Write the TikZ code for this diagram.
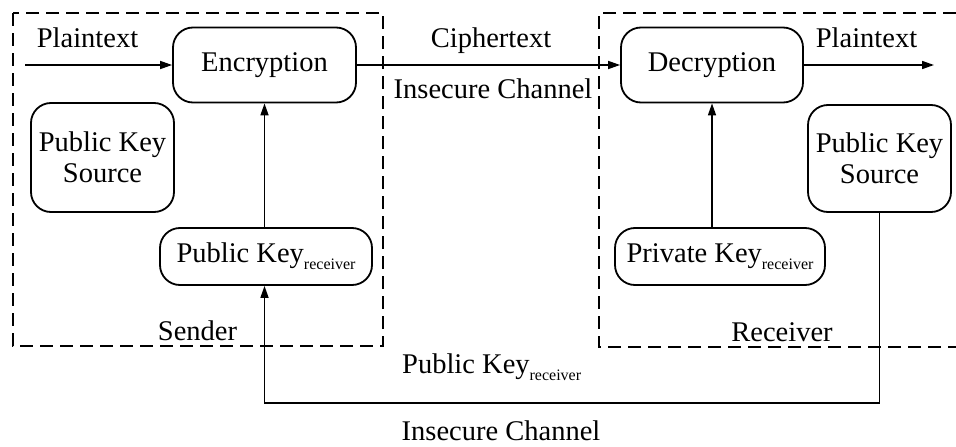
\documentclass[tikz,border=0pt]{standalone}
\usepackage{fontspec}
\setmainfont{Liberation Serif}
\usetikzlibrary{arrows.meta}

% subscript "receiver" set small and lowered
\newcommand{\rcvsub}{\raisebox{-7pt}{\fontsize{16}{16}\selectfont receiver}}

\tikzset{
  blk/.style={draw, line width=1.8pt, rounded corners=20pt, inner sep=0pt, align=center},
  zone/.style={draw, line width=1.8pt, dash pattern=on 13pt off 7pt},
  arr/.style={draw, line width=1.6pt, -{Triangle[length=12pt,width=8pt]}},
  wire/.style={draw, line width=1.6pt},
  lbl/.style={anchor=base, inner sep=0pt}
}

\begin{document}
\begin{tikzpicture}[x=1pt, y=-1pt, font=\fontsize{28.5}{31}\selectfont]
  \useasboundingbox (0,0) rectangle (956,447);

  % sender and receiver zones
  \draw[zone] (13,13) rectangle (383,346);
  \draw[zone] (956,13) -- (599,13) -- (599,347) -- (956,347);

  % blocks
  \node[blk, minimum width=183pt, minimum height=75pt] (enc) at (264.5,65) {Encryption};
  \node[blk, minimum width=182pt, minimum height=75pt] (dec) at (712,65) {Decryption};
  \node[blk, minimum width=143pt, minimum height=109pt] (pksL) at (102.5,157.5) {Public Key\\Source};
  \node[blk, minimum width=143pt, minimum height=107pt] (pksR) at (879.5,158.5) {Public Key\\Source};
  \node[blk, minimum width=212pt, minimum height=57pt] (pubk) at (266,256.5) {Public Key\rcvsub};
  \node[blk, minimum width=210pt, minimum height=57pt] (privk) at (720,256.5) {Private Key\rcvsub};

  % free ends and routing points
  \coordinate (pin) at (25,65);
  \coordinate (pout) at (934,65);
  \coordinate (bot) at (0,403);

  % connectors
  \draw[arr] (pin) -- (enc.west);
  \draw[arr] (enc.east) -- (dec.west);
  \draw[arr] (dec.east) -- (pout);
  \draw[arr] (enc.south |- pubk.north) -- (enc.south);
  \draw[arr] (dec.south |- privk.north) -- (dec.south);
  \draw[arr] (pksR.south) -- (pksR.south |- bot) -- (enc.south |- bot) -- (enc.south |- pubk.south);

  % labels
  \node[lbl] (lpin) at (87.5,47) {Plaintext};
  \node[lbl] (lcip) at (491,47) {Ciphertext};
  \node[lbl] (lch1) at (493,98) {Insecure Channel};
  \node[lbl] (lpout) at (866.5,47) {Plaintext};
  \node[lbl] (lsnd) at (197.5,340) {Sender};
  \node[lbl] (lrcv) at (782,341) {Receiver};
  \node[lbl, anchor=base west] (lkey) at (402,373) {Public Key\rcvsub};
  \node[lbl] (lch2) at (501,440) {Insecure Channel};
\end{tikzpicture}
\end{document}
